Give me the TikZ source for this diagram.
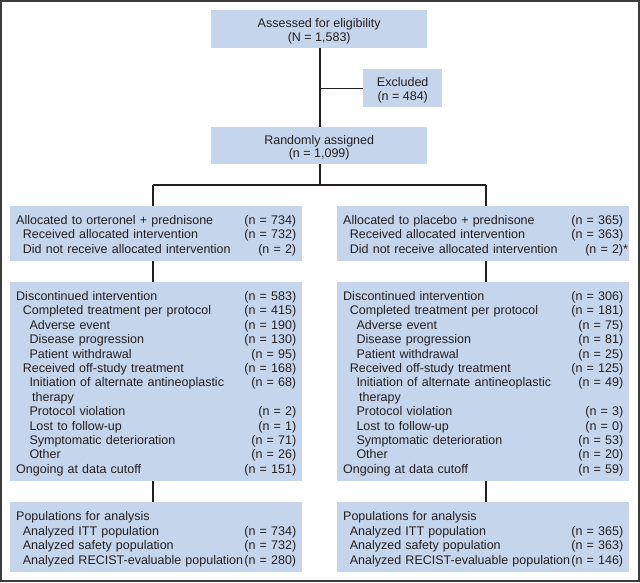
\documentclass[tikz,border=0pt]{standalone}
\usepackage{fontspec}
\setmainfont{Liberation Sans}
\definecolor{boxblue}{RGB}{197,213,236}
\definecolor{ink}{RGB}{35,31,32}
\definecolor{framecol}{RGB}{60,60,60}
\newcommand\fline[3]{\hbox to \linewidth{\hspace*{#1}#2\hfil #3}}
\newcommand\ffirst[3]{\hbox to \linewidth{\rule{0pt}{13pt}\hspace*{#1}#2\hfil #3}}
\newcommand\tstrut{\rule{0pt}{13pt}}
\tikzset{
  txt/.style={font={\fontsize{12.5}{14.4}\selectfont}, text=ink},
  topbox/.style={txt, fill=boxblue, draw=none, anchor=north west, inner sep=0pt,
     minimum width=#1, align=center, font={\fontsize{12.5}{13.4}\selectfont}},
  panel/.style={txt, fill=boxblue, draw=none, anchor=north west, inner xsep=6pt,
     inner ysep=0pt, text width=280pt, minimum height=#1},
  link/.style={draw=ink, line width=1.3pt}
}
\begin{document}
\begin{tikzpicture}[x=1pt,y=-1pt]
\useasboundingbox (0,0) rectangle (640,582);
\draw[framecol, line width=2pt] (1,1) rectangle (639,581);

\node[topbox=216pt, minimum height=38pt] (title) at (211,10) {\tstrut Assessed for eligibility\\(N = 1,583)};
\node[topbox=79pt, minimum height=38pt] (excl) at (363,69) {\tstrut Excluded\\(n = 484)};
\node[topbox=216pt, minimum height=37pt] (rand) at (211,127) {\tstrut Randomly assigned\\(n = 1,099)};

\node[panel=55pt] (L1) at (10,206) {%
\ffirst{0pt}{Allocated to orteronel + prednisone}{(n = 734)}
\fline{6.7pt}{Received allocated intervention}{(n = 732)}
\fline{6.7pt}{Did not receive allocated intervention}{(n = 2)}};
\node[panel=55pt] (R1) at (337,206) {%
\ffirst{0pt}{Allocated to placebo + prednisone}{(n = 365)}
\fline{6.7pt}{Received allocated intervention}{(n = 363)}
\fline{6.7pt}{Did not receive allocated intervention}{(n = 2)\rlap{*}}};

\node[panel=199pt] (L2) at (10,282) {%
\ffirst{0pt}{Discontinued intervention}{(n = 583)}
\fline{6.7pt}{Completed treatment per protocol}{(n = 415)}
\fline{13.3pt}{Adverse event}{(n = 190)}
\fline{13.3pt}{Disease progression}{(n = 130)}
\fline{13.3pt}{Patient withdrawal}{(n = 95)}
\fline{6.7pt}{Received off-study treatment}{(n = 168)}
\fline{13.3pt}{Initiation of alternate antineoplastic}{(n = 68)}
\fline{16pt}{therapy}{}
\fline{13.3pt}{Protocol violation}{(n = 2)}
\fline{13.3pt}{Lost to follow-up}{(n = 1)}
\fline{13.3pt}{Symptomatic deterioration}{(n = 71)}
\fline{13.3pt}{Other}{(n = 26)}
\fline{0pt}{Ongoing at data cutoff}{(n = 151)}};
\node[panel=199pt] (R2) at (337,282) {%
\ffirst{0pt}{Discontinued intervention}{(n = 306)}
\fline{6.7pt}{Completed treatment per protocol}{(n = 181)}
\fline{13.3pt}{Adverse event}{(n = 75)}
\fline{13.3pt}{Disease progression}{(n = 81)}
\fline{13.3pt}{Patient withdrawal}{(n = 25)}
\fline{6.7pt}{Received off-study treatment}{(n = 125)}
\fline{13.3pt}{Initiation of alternate antineoplastic}{(n = 49)}
\fline{16pt}{therapy}{}
\fline{13.3pt}{Protocol violation}{(n = 3)}
\fline{13.3pt}{Lost to follow-up}{(n = 0)}
\fline{13.3pt}{Symptomatic deterioration}{(n = 53)}
\fline{13.3pt}{Other}{(n = 20)}
\fline{0pt}{Ongoing at data cutoff}{(n = 59)}};

\node[panel=70pt] (L3) at (10,502) {%
\ffirst{0pt}{Populations for analysis}{}
\fline{6.7pt}{Analyzed ITT population}{(n = 734)}
\fline{6.7pt}{Analyzed safety population}{(n = 732)}
\fline{6.7pt}{Analyzed RECIST-evaluable population}{(n = 280)}};
\node[panel=70pt] (R3) at (337,502) {%
\ffirst{0pt}{Populations for analysis}{}
\fline{6.7pt}{Analyzed ITT population}{(n = 365)}
\fline{6.7pt}{Analyzed safety population}{(n = 363)}
\fline{6.7pt}{Analyzed RECIST-evaluable population}{(n = 146)}};

\coordinate (trunk) at (320,185);
\coordinate (jl) at (153,185);
\coordinate (jr) at (486,185);

\draw[link] (trunk |- title.south) -- (trunk |- rand.north);
\draw[link] (trunk |- excl.west) -- (excl.west);
\draw[link] (trunk |- rand.south) -- (trunk);
\draw[link] (jl) -- (jr);
\draw[link] (jl) -- (jl |- L1.north);
\draw[link] (jr) -- (jr |- R1.north);
\draw[link] (jl |- L1.south) -- (jl |- L2.north);
\draw[link] (jr |- R1.south) -- (jr |- R2.north);
\draw[link] (jl |- L2.south) -- (jl |- L3.north);
\draw[link] (jr |- R2.south) -- (jr |- R3.north);
\end{tikzpicture}
\end{document}
